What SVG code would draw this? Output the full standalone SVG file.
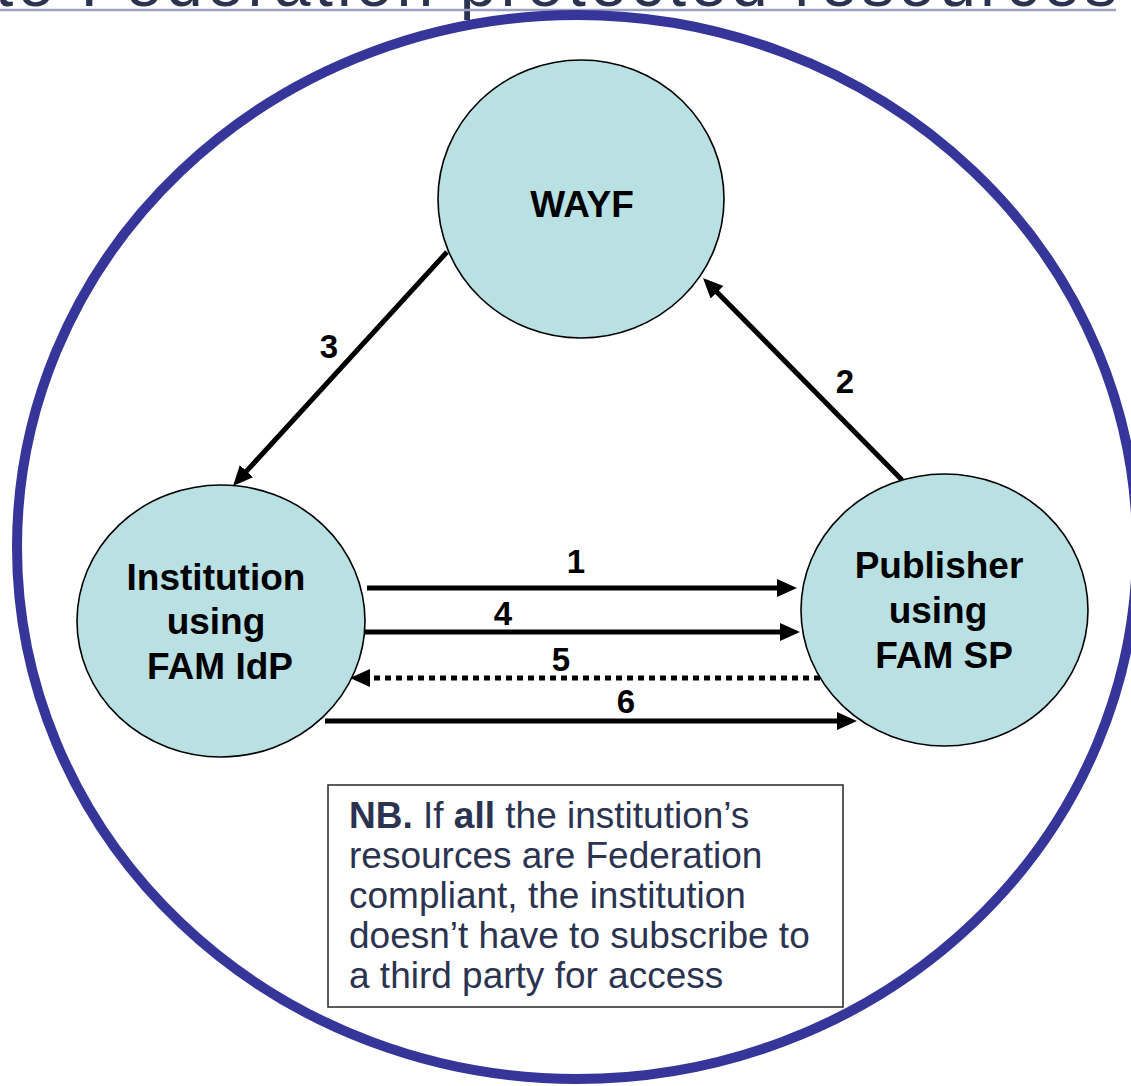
<svg xmlns="http://www.w3.org/2000/svg" width="1131" height="1086" viewBox="0 0 1131 1086">
<style>
.node{fill:#b9e0e3;stroke:#000;stroke-width:1.6}
.nt{font-family:"Liberation Sans",Arial,sans-serif;font-weight:bold;font-size:37px;fill:#000;text-anchor:middle}
.lbl{font-family:"Liberation Sans",Arial,sans-serif;font-weight:bold;font-size:33px;fill:#000;text-anchor:middle}
.edge{stroke:#000;stroke-width:5;fill:none;marker-end:url(#ah)}
.nb{font-family:"Liberation Sans",Arial,sans-serif;font-size:37px;fill:#2b3350}
</style>
<defs>
<marker id="ah" markerUnits="userSpaceOnUse" markerWidth="22" markerHeight="20" refX="8" refY="9" orient="auto">
<path d="M0,0 L20,9 L0,18 z" fill="#000"/>
</marker>
</defs>
<rect width="1131" height="1086" fill="#fff"/>
<g id="title">
<text x="-5" y="6" font-family="'Liberation Sans',Arial,sans-serif" font-size="66" fill="#2b3350" textLength="1122" lengthAdjust="spacing">to Federation protected resources</text>
<line x1="0" y1="10" x2="1116" y2="10" stroke="#9aa3bf" stroke-width="2.5"/>
</g>
<g id="federation-boundary">
<ellipse cx="577" cy="547" rx="560" ry="532" fill="none" stroke="#36369a" stroke-width="10"/>
</g>
<g id="connectors">
<line class="edge" x1="447" y1="252" x2="241.1" y2="477.1"/>
<line class="edge" x1="902" y1="480" x2="711.4" y2="286.5"/>
<line class="edge" x1="367" y1="588" x2="785" y2="588"/>
<line class="edge" x1="365" y1="632" x2="788" y2="632"/>
<line class="edge" x1="820" y1="678" x2="362" y2="678" stroke-dasharray="6,5"/>
<line class="edge" x1="325" y1="721" x2="845" y2="721"/>
<text class="lbl" x="329" y="358">3</text>
<text class="lbl" x="845" y="393">2</text>
<text class="lbl" x="576" y="573">1</text>
<text class="lbl" x="503" y="625">4</text>
<text class="lbl" x="561" y="671">5</text>
<text class="lbl" x="626" y="713">6</text>
</g>
<g id="wayf">
<ellipse class="node" cx="581" cy="199" rx="143" ry="139"/>
<text class="nt" x="582" y="217">WAYF</text>
</g>
<g id="institution">
<ellipse class="node" cx="221" cy="621" rx="144" ry="136"/>
<text class="nt" x="216" y="590">Institution</text>
<text class="nt" x="216" y="634">using</text>
<text class="nt" x="220" y="679">FAM IdP</text>
</g>
<g id="publisher">
<ellipse class="node" cx="944.5" cy="610" rx="143.5" ry="136"/>
<text class="nt" x="939" y="578">Publisher</text>
<text class="nt" x="938" y="623">using</text>
<text class="nt" x="944" y="668">FAM SP</text>
</g>
<g id="nb-note">
<rect x="328" y="785" width="515" height="222" fill="#fff" stroke="#333" stroke-width="1.6"/>
<text class="nb" x="349" y="828"><tspan font-weight="bold">NB.</tspan> If <tspan font-weight="bold">all</tspan> the institution’s</text>
<text class="nb" x="349" y="868">resources are Federation</text>
<text class="nb" x="349" y="908">compliant, the institution</text>
<text class="nb" x="349" y="948">doesn’t have to subscribe to</text>
<text class="nb" x="349" y="988">a third party for access</text>
</g>
</svg>
